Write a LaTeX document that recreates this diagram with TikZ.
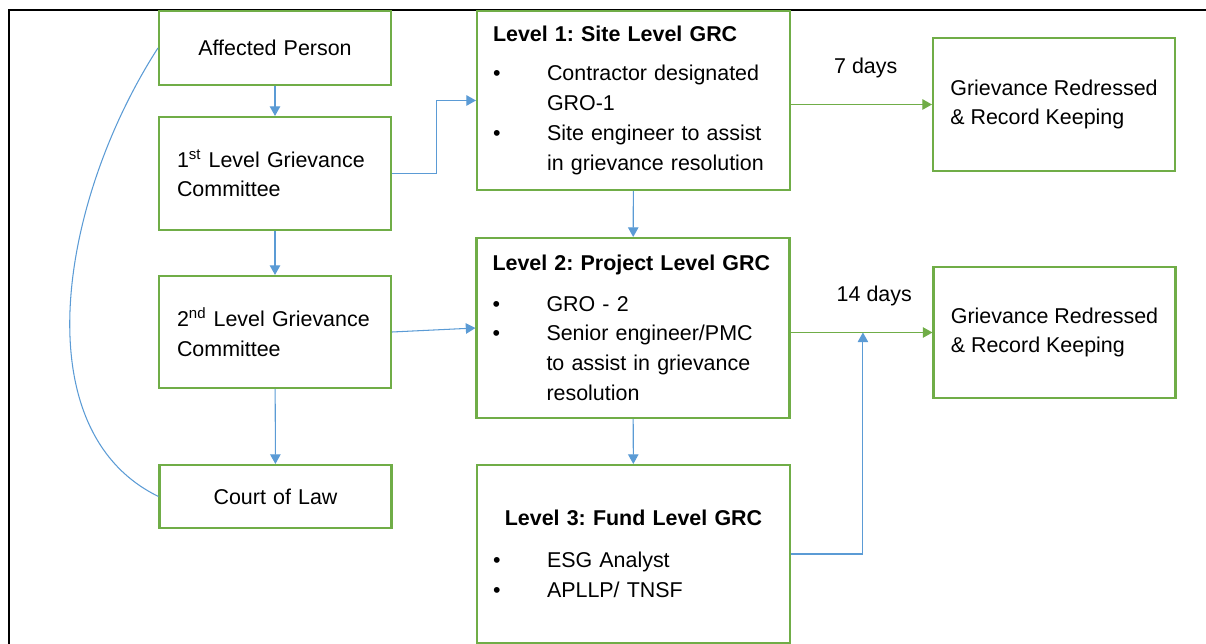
\documentclass[tikz,border=0pt]{standalone}
\usepackage{fontspec}
\setmainfont{Liberation Sans}
\usetikzlibrary{positioning, arrows.meta}
\definecolor{boxgreen}{HTML}{70AD47}
\definecolor{linkblue}{HTML}{5B9BD5}
\newcommand{\bul}[1]{\mbox{\makebox[1.08cm][l]{\textbullet}#1}}
\newcommand{\ind}[1]{\mbox{\hspace*{1.08cm}#1}}
\frenchspacing

\begin{document}
\begin{tikzpicture}[x=0.02cm, y=-0.02cm,
        font=\fontsize{12.2}{17}\selectfont,
        gbox/.style={draw=boxgreen, line width=1.2pt, inner sep=0pt},
        sidebox/.style={gbox, minimum width=4.64cm, text width=3.92cm, align=left},
        levelbox/.style={gbox, minimum width=6.26cm, text width=5.62cm, align=left},
        redbox/.style={gbox, minimum width=4.84cm, align=left},
        blink/.style={linkblue, line width=0.6pt, -{Triangle[width=6pt,length=5.5pt]}},
        glink/.style={boxgreen, line width=0.6pt, -{Triangle[width=6pt,length=5.5pt]}},
        dayslabel/.style={text=black, above=0.4cm}]

    \useasboundingbox (0,0) rectangle (1206,644);

    %Table border
    \draw[line width=0.6pt] (9,644) -- (9,10) -- (1206,10);
    \draw[line width=1.4pt] (9,10) -- (38,10);
    \draw[line width=1.4pt] (1180,10) -- (1206,10);

    %Left column
    \node[sidebox, minimum height=1.48cm, align=center] (affected) at (275,48) {Affected Person};
    \node[sidebox, minimum height=2.26cm] (first) at (275,173.5) {1\textsuperscript{st} Level Grievance\\Committee};
    \node[sidebox, minimum height=2.24cm] (second) at (275,332) {2\textsuperscript{nd} Level Grievance\\Committee};
    \node[sidebox, minimum height=1.26cm, align=center] (court) at (275.5,496.5) {Court of Law};

    %Level committees
    \node[levelbox, minimum height=3.58cm] (level1) at (633.5,100.5)
        {\mbox{\textbf{Level 1: Site Level GRC}}\\[5pt]\bul{Contractor designated}\\\ind{GRO-1}\\\bul{Site engineer to assist}\\\ind{in grievance resolution}};
    \node[levelbox, minimum height=3.6cm] (level2) at (633,328)
        {\mbox{\textbf{Level 2: Project Level GRC}}\\[6pt]\bul{GRO - 2}\\\bul{Senior engineer/PMC}\\\ind{to assist in grievance}\\\ind{resolution}};
    \node[levelbox, minimum height=3.56cm] (level3) at (633.5,554)
        {\makebox[5.62cm]{\textbf{Level 3: Fund Level GRC}}\\[7pt]\bul{ESG Analyst}\\\bul{APLLP/ TNSF}};

    %Outcomes
    \node[redbox, minimum height=2.66cm] (red1) at (1054,104.5) {Grievance Redressed\\\& Record Keeping};
    \node[redbox, minimum height=2.62cm] (red2) at (1054.5,332.5) {Grievance Redressed\\\& Record Keeping};

    %Escalation links
    \draw[blink] (affected) -- (first);
    \draw[blink] (first) -- (second);
    \draw[blink] (second) -- (court);
    \draw[blink] (first.east) -- ++(44,0) |- (level1.west);
    \draw[blink] (second.east) -- (level2.west);
    \draw[blink] (level1) -- (level2);
    \draw[blink] (level2) -- (level3);
    \draw[linkblue, line width=0.6pt] (affected.west) .. controls (60,200) and (22,430) .. (court.west);

    %Redressal links
    \draw[glink] (red1.west -| level1.east) -- node[pos=0.53, dayslabel] (days7) {7 days} (red1.west);
    \draw[glink] (red2.west -| level2.east) -- node[pos=0.59, dayslabel] (days14) {14 days}
        coordinate[pos=0.51] (merge) (red2.west);
    \draw[blink] (level3.east) -| (merge);

\end{tikzpicture}
\end{document}
